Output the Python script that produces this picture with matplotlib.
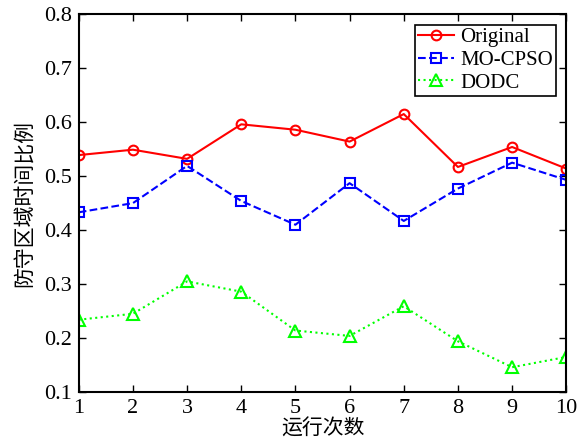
import matplotlib
matplotlib.use('Agg')
import matplotlib.pyplot as plt

runs = [1, 2, 3, 4, 5, 6, 7, 8, 9, 10]
original = [0.539, 0.549, 0.532, 0.596, 0.586, 0.564, 0.615, 0.517, 0.554, 0.514]
mo_cpso = [0.433, 0.450, 0.519, 0.454, 0.410, 0.487, 0.417, 0.477, 0.525, 0.493]
dodc = [0.234, 0.245, 0.305, 0.286, 0.214, 0.204, 0.259, 0.194, 0.146, 0.165]

plt.rcParams['font.family'] = ['Liberation Serif', 'Noto Sans CJK SC']

fig = plt.figure(figsize=(5.79, 4.44), dpi=100)
ax = fig.add_axes([0.136, 0.117, 0.842, 0.851])

ax.plot(runs, original, '-o', color='#ff0000', lw=1.5, ms=7, mfc='none', mew=1.5, label='Original')
ax.plot(runs, mo_cpso, '--s', color='#0000ff', lw=1.5, ms=7, mfc='none', mew=1.5, label='MO-CPSO')
ax.plot(runs, dodc, ':^', color='#00ff00', lw=1.5, ms=8, mfc='none', mew=1.5, label='DODC')

ax.set_xlim(1, 10)
ax.set_ylim(0.1, 0.8)
ax.set_xticks(runs)
ax.set_yticks([0.1, 0.2, 0.3, 0.4, 0.5, 0.6, 0.7, 0.8])
ax.tick_params(direction='in', top=True, right=True, labelsize=16, length=5, width=1, pad=5)
for s in ax.spines.values():
    s.set_linewidth(1.5)

ax.set_xlabel('运行次数', family=['Noto Sans CJK SC'], fontsize=15, labelpad=0)
ax.set_ylabel('防守区域时间比例', family=['Noto Sans CJK SC'], fontsize=15, labelpad=6)

leg = ax.legend(loc='upper right', fontsize=15, fancybox=False, edgecolor='black',
                framealpha=1, borderpad=0.15, labelspacing=0.15, handlelength=1.7,
                handletextpad=0.3, borderaxespad=0.5)
leg.get_frame().set_linewidth(1.2)

fig.savefig('out.png', dpi=100)
